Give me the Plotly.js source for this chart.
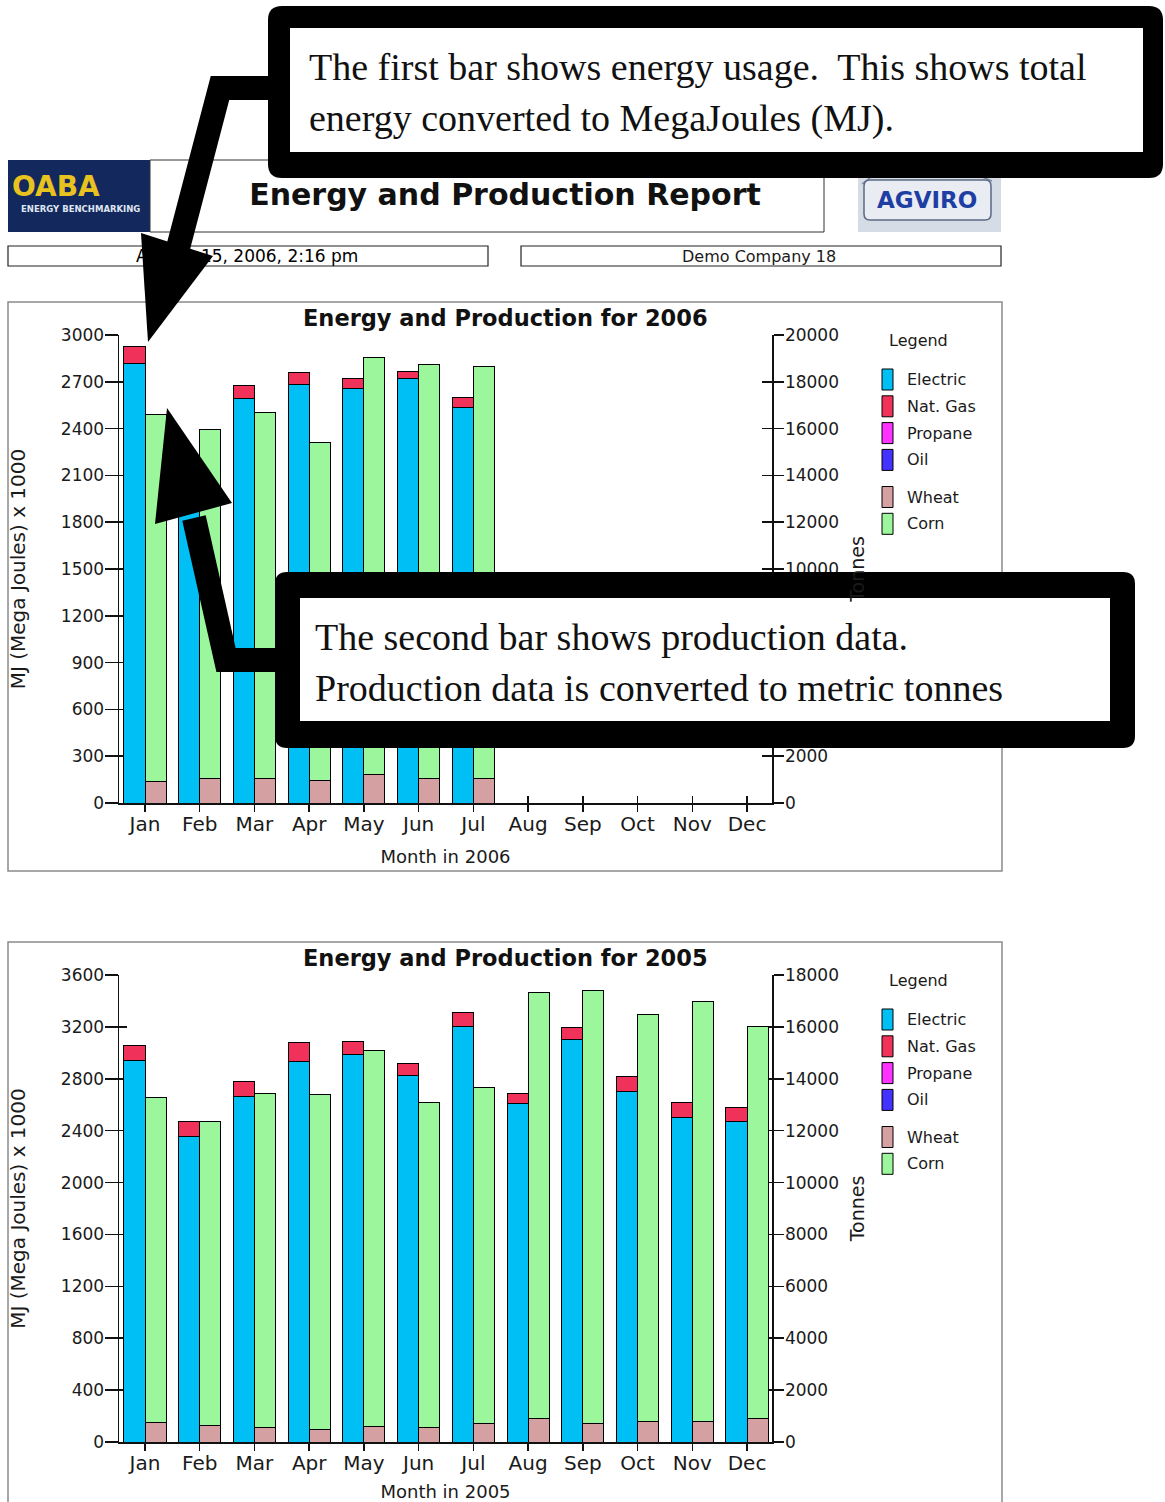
<!DOCTYPE html>
<html>
<head>
<meta charset="utf-8">
<script src="https://cdn.plot.ly/plotly-3.0.1.min.js"></script>
<style>
  html, body { margin: 0; padding: 0; background: #ffffff; }
  #report { width: 1165px; height: 1502px; }
</style>
</head>
<body>
<div id="report"></div>
<script>
// ---------- data ----------
const months = ['Jan', 'Feb', 'Mar', 'Apr', 'May', 'Jun', 'Jul', 'Aug', 'Sep', 'Oct', 'Nov', 'Dec'];

const energySeries = ['Electric', 'Nat. Gas', 'Propane', 'Oil'];
const productionSeries = ['Wheat', 'Corn'];

// 2006 energy use, MJ x 1000 (no data yet after July)
const electric2006 = [2820, 2000, 2595, 2680, 2660, 2718, 2536, null, null, null, null, null];
const natGas2006   = [105, 90, 80, 80, 62, 47, 64, null, null, null, null, null];
const propane2006  = [0, 0, 0, 0, 0, 0, 0, null, null, null, null, null];
const oil2006      = [0, 0, 0, 0, 0, 0, 0, null, null, null, null, null];
// 2006 production, tonnes
const wheat2006    = [940, 1030, 1030, 950, 1200, 1030, 1030, null, null, null, null, null];
const corn2006     = [15670, 14940, 15670, 14450, 17850, 17690, 17620, null, null, null, null, null];

// 2005 energy use, MJ x 1000
const electric2005 = [2940, 2356, 2664, 2934, 2986, 2824, 3204, 2606, 3101, 2703, 2502, 2472];
const natGas2005   = [115, 116, 116, 142, 102, 92, 108, 84, 91, 111, 116, 108];
const propane2005  = [0, 0, 0, 0, 0, 0, 0, 0, 0, 0, 0, 0];
const oil2005      = [0, 0, 0, 0, 0, 0, 0, 0, 0, 0, 0, 0];
// 2005 production, tonnes
const wheat2005    = [770, 655, 565, 500, 580, 565, 715, 925, 730, 780, 780, 925];
const corn2005     = [12490, 11705, 12885, 12885, 14500, 12535, 12965, 16415, 16670, 15680, 16190, 15095];

// ---------- styling ----------
const W = 1165, H = 1502;
const FONT = 'DejaVu Sans, Verdana, sans-serif';
const SERIF = 'Liberation Serif, Times New Roman, serif';
const INK = '#1a1a1a';
const energyColors = ['#00bff5', '#f0325a', '#ff33ff', '#4433ff'];
const productionColors = ['#d4a0a2', '#9cf79c'];

const fx = x => x / W;
const fy = y => 1 - y / H;
const pt = (x, y) => `${fx(x).toFixed(5)} ${fy(y).toFixed(5)}`;
const poly = (pts, close) => 'M' + pts.map(p => pt(p[0], p[1])).join(' L') + (close ? ' Z' : '');

function rect(x0, y0, x1, y1, opts) {
  return Object.assign({ type: 'rect', xref: 'paper', yref: 'paper',
    x0: fx(x0), x1: fx(x1), y0: fy(y1), y1: fy(y0) }, opts);
}
function roundRect(x0, y0, x1, y1, r) {
  return 'M' + pt(x0 + r, y0) + ' L' + pt(x1 - r, y0) + ' Q' + pt(x1, y0) + ' ' + pt(x1, y0 + r) +
    ' L' + pt(x1, y1 - r) + ' Q' + pt(x1, y1) + ' ' + pt(x1 - r, y1) +
    ' L' + pt(x0 + r, y1) + ' Q' + pt(x0, y1) + ' ' + pt(x0, y1 - r) +
    ' L' + pt(x0, y0 + r) + ' Q' + pt(x0, y0) + ' ' + pt(x0 + r, y0) + ' Z';
}
function text(str, x, y, font, extra) {
  return Object.assign({ text: str, xref: 'paper', yref: 'paper', x: fx(x), y: fy(y),
    showarrow: false, xanchor: 'center', yanchor: 'middle', font: font }, extra);
}

// ---------- panels ----------
const panels = [
  { year: 2006, top: 335, bottom: 803, dy: 0, xa: 'x', yl: 'y', yr: 'y2',
    xIn: 'xaxis3', ylIn: 'yaxis5', yrIn: 'yaxis6',
    energy: [electric2006, natGas2006, propane2006, oil2006],
    production: [wheat2006, corn2006], mjMax: 3000, mjStep: 300, tMax: 20000, tStep: 2000 },
  { year: 2005, top: 975, bottom: 1442, dy: 640, xa: 'x2', yl: 'y3', yr: 'y4',
    xIn: 'xaxis4', ylIn: 'yaxis7', yrIn: 'yaxis8',
    energy: [electric2005, natGas2005, propane2005, oil2005],
    production: [wheat2005, corn2005], mjMax: 3600, mjStep: 400, tMax: 18000, tStep: 2000 }
];

const AX_LEFT = 119, AX_RIGHT = 772;
const X_RANGE = [-0.475, 11.456];
const BAR_W = 0.385;

const traces = [];
const layout = {
  width: W, height: H,
  margin: { l: 0, r: 0, t: 0, b: 0 },
  paper_bgcolor: '#ffffff', plot_bgcolor: 'rgba(0,0,0,0)',
  font: { family: FONT, color: INK },
  barmode: 'stack', showlegend: false, hovermode: false,
  title: { text: 'Energy and Production Report', xref: 'container', yref: 'container',
    x: fx(505), xanchor: 'center', y: fy(194), yanchor: 'middle',
    font: { family: FONT, size: 30, weight: 'bold', color: '#111' } },
  shapes: [], annotations: []
};

const axisLine = { showline: true, linecolor: '#111', linewidth: 1.5, showgrid: false, zeroline: false,
  tickcolor: '#111', tickwidth: 1.5, fixedrange: true };
const innerTicks = { showline: false, showgrid: false, zeroline: false, showticklabels: false,
  ticks: 'inside', tickcolor: '#111', tickwidth: 1.5, layer: 'below traces', fixedrange: true };

panels.forEach(p => {
  const yDom = [fy(p.bottom), fy(p.top)];
  const xName = p.xa === 'x' ? 'xaxis' : 'xaxis2';
  const ylName = p.yl === 'y' ? 'yaxis' : 'yaxis3';
  const yrName = p.yr === 'y2' ? 'yaxis2' : 'yaxis4';

  p.energy.forEach((vals, i) => {
    traces.push({ type: 'bar', name: energySeries[i], x: months, y: vals,
      xaxis: p.xa, yaxis: p.yl, offset: -BAR_W, width: BAR_W,
      marker: { color: energyColors[i], line: { color: '#000', width: i < 2 ? 1 : 0 } } });
  });
  p.production.forEach((vals, i) => {
    traces.push({ type: 'bar', name: productionSeries[i], x: months, y: vals,
      xaxis: p.xa, yaxis: p.yr, offset: 0, width: BAR_W,
      marker: { color: productionColors[i], line: { color: '#000', width: 1 } } });
  });

  layout[xName] = Object.assign({}, axisLine, {
    domain: [fx(AX_LEFT), fx(AX_RIGHT)], anchor: p.yl, type: 'category',
    categoryorder: 'array', categoryarray: months, range: X_RANGE,
    ticks: 'outside', ticklen: 7, ticklabelstandoff: -5,
    tickfont: { family: FONT, size: 20, color: INK },
    title: { text: 'Month in ' + p.year, standoff: 16, font: { family: FONT, size: 18, color: INK } } });
  layout[ylName] = Object.assign({}, axisLine, {
    domain: yDom, anchor: p.xa, range: [0, p.mjMax], tickmode: 'linear', tick0: 0, dtick: p.mjStep,
    tickformat: 'd', ticks: 'outside', ticklen: 13, ticklabelstandoff: -3,
    tickfont: { family: FONT, size: 17, color: INK },
    title: { text: 'MJ (Mega Joules) x 1000', standoff: 30, font: { family: FONT, size: 20, color: INK } } });
  layout[yrName] = Object.assign({}, axisLine, {
    overlaying: p.yl, side: 'right', anchor: p.xa, range: [0, p.tMax], tickmode: 'linear', tick0: 0,
    dtick: p.tStep, tickformat: 'd', ticks: 'outside', ticklen: 10, ticklabelstandoff: -2,
    tickfont: { family: FONT, size: 17, color: INK },
    title: { text: 'Tonnes', standoff: 12, font: { family: FONT, size: 19, color: INK } } });

  // inner halves of the crossing tick marks
  layout[p.xIn] = Object.assign({}, innerTicks, { overlaying: p.xa, anchor: p.yl, range: X_RANGE,
    tickmode: 'array', tickvals: months.map((m, i) => i), ticklen: 7 });
  layout[p.ylIn] = Object.assign({}, innerTicks, { overlaying: p.yl, anchor: p.xa, side: 'left',
    range: [0, p.mjMax], tickmode: 'linear', tick0: 0, dtick: p.mjStep, ticklen: 8 });
  layout[p.yrIn] = Object.assign({}, innerTicks, { overlaying: p.yl, anchor: p.xa, side: 'right',
    range: [0, p.tMax], tickmode: 'linear', tick0: 0, dtick: p.tStep, ticklen: 10 });

  // frame and title
  layout.shapes.push(rect(8, p.dy + 302, 1002, p.dy + 871,
    { layer: 'below', line: { color: '#8a8a8a', width: 1.5 }, fillcolor: 'rgba(0,0,0,0)' }));
  layout.annotations.push(text('Energy and Production for ' + p.year, 505, p.dy + 318,
    { family: FONT, size: 22.5, weight: 'bold', color: '#111' }));

  // legend
  layout.annotations.push(text('Legend', 887, p.dy + 341, { family: FONT, size: 16, color: INK },
    { xanchor: 'left' }));
  const rows = energySeries.map((n, i) => ({ name: n, color: energyColors[i], y: 379.5 + i * 26.8 }))
    .concat(productionSeries.map((n, i) => ({ name: n, color: productionColors[i], y: 497 + i * 26.8 })));
  rows.forEach(r => {
    layout.shapes.push(rect(882, p.dy + r.y - 10.5, 893, p.dy + r.y + 10.5,
      { fillcolor: r.color, line: { color: '#000', width: 1 } }));
    layout.annotations.push(text(r.name, 905, p.dy + r.y, { family: FONT, size: 16, color: INK },
      { xanchor: 'left' }));
  });
});

// overlay axes need their own data reference; keep them empty
['x3', 'x4'].forEach((xa, k) => traces.push({ type: 'scatter', x: [], y: [], xaxis: xa, yaxis: k ? 'y3' : 'y', showlegend: false }));
[['x', 'y5'], ['x', 'y6'], ['x2', 'y7'], ['x2', 'y8']].forEach(a =>
  traces.push({ type: 'scatter', x: [], y: [], xaxis: a[0], yaxis: a[1], showlegend: false }));

// ---------- page header ----------
const S = layout.shapes, A = layout.annotations;
// OABA logo
S.push(rect(8, 160, 150, 232, { layer: 'below', fillcolor: '#13285c', line: { width: 0 } }));
A.push(text('OABA', 56, 187, { family: FONT, size: 28, weight: 'bold', color: '#e8c21e' }));
A.push(text('ENERGY BENCHMARKING', 80, 209, { family: FONT, size: 8.5, weight: 'bold', color: '#dfe5f2' }));
// title box
S.push(rect(150, 160, 824, 232, { layer: 'below', line: { color: '#333', width: 1 }, fillcolor: 'rgba(0,0,0,0)' }));
// AGVIRO logo
S.push(rect(858, 165, 1001, 232, { layer: 'below', fillcolor: '#d6dce6', line: { width: 0 } }));
S.push({ type: 'path', xref: 'paper', yref: 'paper', layer: 'below',
  path: poly([[862, 184], [880, 170], [915, 177], [955, 166], [992, 181]]),
  line: { color: '#7d8aa3', width: 1.5 } });
S.push({ type: 'path', xref: 'paper', yref: 'paper', layer: 'below', path: roundRect(864, 180, 991, 220, 6),
  fillcolor: '#e9edf3', line: { color: '#5b6883', width: 1.5 } });
A.push(text('AGVIRO', 927, 200, { family: FONT, size: 23, weight: 'bold', color: '#1e3ea3' }));
// date and company boxes
S.push(rect(8, 246, 488, 266, { layer: 'below', line: { color: '#222', width: 1.2 }, fillcolor: 'rgba(0,0,0,0)' }));
S.push(rect(521, 246, 1001, 266, { layer: 'below', line: { color: '#222', width: 1.2 }, fillcolor: 'rgba(0,0,0,0)' }));
A.push(text('August 15, 2006, 2:16 pm', 247, 256, { family: FONT, size: 17, color: '#000' }));
A.push(text('Demo Company 18', 759, 256, { family: FONT, size: 16, color: INK }));

// ---------- call-outs ----------
const black = { fillcolor: '#000', line: { width: 0 } };
// arrow from the first call-out down to the energy bar
S.push({ type: 'path', xref: 'paper', yref: 'paper', path: poly([[274, 88], [220, 88], [178, 248]]),
  line: { color: '#000', width: 24 }, fillcolor: 'rgba(0,0,0,0)' });
S.push(Object.assign({ type: 'path', xref: 'paper', yref: 'paper',
  path: poly([[141, 233], [213, 256], [148, 342]], true) }, black));
// arrow from the second call-out up to the production bar
S.push({ type: 'path', xref: 'paper', yref: 'paper', path: poly([[282, 660], [226, 660], [194, 518]]),
  line: { color: '#000', width: 24 }, fillcolor: 'rgba(0,0,0,0)' });
S.push(Object.assign({ type: 'path', xref: 'paper', yref: 'paper',
  path: poly([[167, 408], [155, 524], [232, 503]], true) }, black));
// boxes
S.push(Object.assign({ type: 'path', xref: 'paper', yref: 'paper', path: roundRect(268, 6, 1163, 178, 14) }, black));
S.push(rect(290, 28, 1143, 152, { fillcolor: '#fff', line: { width: 0 } }));
S.push(Object.assign({ type: 'path', xref: 'paper', yref: 'paper', path: roundRect(275, 572, 1135, 748, 12) }, black));
S.push(rect(300, 598, 1110, 721, { fillcolor: '#fff', line: { width: 0 } }));

const calloutFont = { family: SERIF, size: 38, color: '#111' };
A.push(text('The first bar shows energy usage.\u00a0 This shows total', 307, 67, calloutFont, { xanchor: 'left' }));
A.push(text('energy converted to MegaJoules (MJ).', 307, 118, calloutFont, { xanchor: 'left' }));
A.push(text('The second bar shows production data.', 313, 637, calloutFont, { xanchor: 'left' }));
A.push(text('Production data is converted to metric tonnes', 313, 688, calloutFont, { xanchor: 'left' }));

Plotly.newPlot('report', traces, layout, { displayModeBar: false, staticPlot: true });
</script>
</body>
</html>
